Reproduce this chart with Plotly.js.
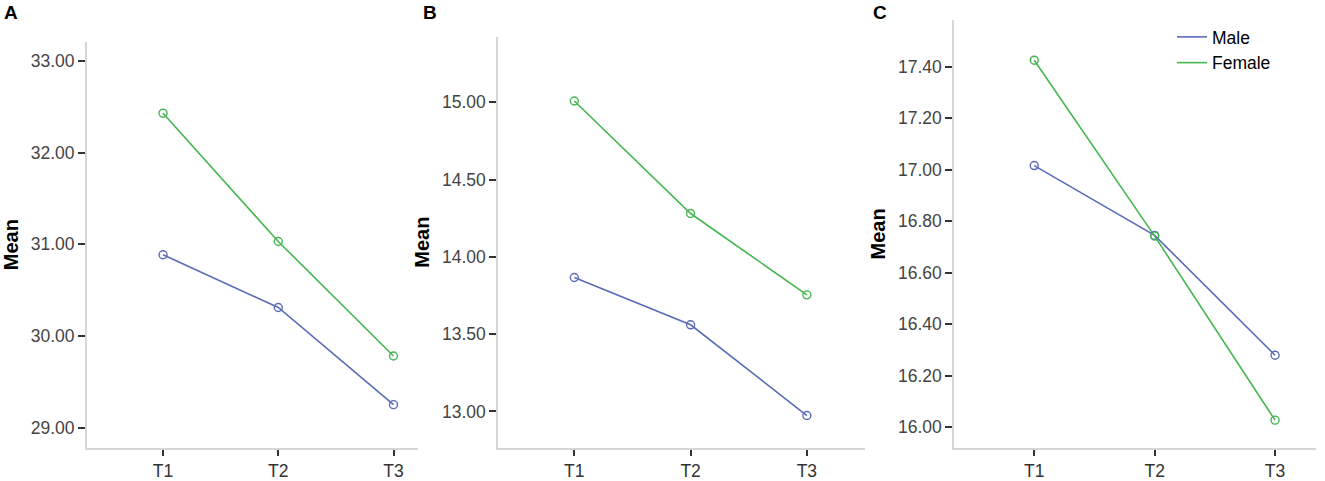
<!DOCTYPE html>
<html>
<head>
<meta charset="utf-8">
<script src="https://cdn.plot.ly/plotly-3.0.1.min.js"></script>
<style>html,body{margin:0;padding:0;background:#fff;}#chart{width:1325px;height:481px;}</style>
</head>
<body>
<div id="chart"></div>
<script>
const categories = ['T1', 'T2', 'T3'];
const maleA = [30.885, 30.31, 29.25];
const femaleA = [32.43, 31.03, 29.78];
const maleB = [13.866, 13.56, 12.973];
const femaleB = [15.008, 14.28, 13.754];
const maleC = [17.016, 16.745, 16.28];
const femaleC = [17.425, 16.742, 16.028];
const tickA = [29, 30, 31, 32, 33];
const tickB = [13, 13.5, 14, 14.5, 15];
const tickC = [16, 16.2, 16.4, 16.6, 16.8, 17, 17.2, 17.4];

const maleColor = '#5b6bb8';
const femaleColor = '#45b650';
const W = 1325, H = 481;
const FONT = 'Liberation Sans, Arial, sans-serif';

function lineTr(x, y, name, color, xa, ya, show) {
  return {
    x: x, y: y, name: name, type: 'scatter', mode: 'lines',
    xaxis: xa, yaxis: ya, showlegend: show,
    line: {color: color, width: 1.6}, hoverinfo: 'skip'
  };
}
function markTr(x, y, name, color, xa, ya) {
  return {
    x: x, y: y, name: name, type: 'scatter', mode: 'markers',
    xaxis: xa, yaxis: ya, showlegend: false,
    marker: {symbol: 'circle-open', size: 8, color: color, line: {width: 1.4, color: color}},
    hoverinfo: 'skip'
  };
}

const data = [
  lineTr(categories, maleA, 'Male', maleColor, 'x', 'y', false),
  lineTr(categories, femaleA, 'Female', femaleColor, 'x', 'y', false),
  markTr(categories, maleA, 'Male', maleColor, 'x', 'y'),
  markTr(categories, femaleA, 'Female', femaleColor, 'x', 'y'),
  lineTr(categories, maleB, 'Male', maleColor, 'x2', 'y2', false),
  lineTr(categories, femaleB, 'Female', femaleColor, 'x2', 'y2', false),
  markTr(categories, maleB, 'Male', maleColor, 'x2', 'y2'),
  markTr(categories, femaleB, 'Female', femaleColor, 'x2', 'y2'),
  lineTr(categories, maleC, 'Male', maleColor, 'x3', 'y3', true),
  lineTr(categories, femaleC, 'Female', femaleColor, 'x3', 'y3', true),
  markTr(categories, maleC, 'Male', maleColor, 'x3', 'y3'),
  markTr(categories, femaleC, 'Female', femaleColor, 'x3', 'y3')
];

function px(a) { return a / W; }
function py(b) { return (H - b) / H; }

function xaxis(d0, d1, r, anchor) {
  return {
    domain: [px(d0), px(d1)], anchor: anchor, type: 'category',
    range: r, showgrid: false, zeroline: false,
    showline: true, linecolor: '#d6d6d6', linewidth: 2,
    ticks: 'outside', ticklen: 6, tickwidth: 2, tickcolor: '#333',
    tickfont: {family: FONT, size: 17.5, color: '#333'},
    fixedrange: true
  };
}
function yaxis(top, r, tv, anchor) {
  return {
    domain: [py(447.7), py(top)], anchor: anchor,
    range: r, showgrid: false, zeroline: false,
    showline: true, linecolor: '#d6d6d6', linewidth: 2,
    ticks: 'outside', ticklen: 7, tickwidth: 2, tickcolor: '#333',
    tickvals: tv, ticktext: tv.map(v => v.toFixed(2)),
    tickfont: {family: FONT, size: 17.5, color: '#444'},
    title: {text: '<b>Mean</b>', font: {family: FONT, size: 20, color: '#000'}, standoff: 7},
    fixedrange: true
  };
}

const layout = {
  width: W, height: H,
  margin: {l: 0, r: 0, t: 0, b: 0},
  paper_bgcolor: '#fff', plot_bgcolor: '#fff',
  xaxis: xaxis(87, 417.7, [-0.66, 2.21], 'y'),
  yaxis: yaxis(41.7, [28.78, 33.21], tickA, 'x'),
  xaxis2: xaxis(498.3, 865, [-0.654, 2.5], 'y2'),
  yaxis2: yaxis(36.7, [12.765, 15.424], tickB, 'x2'),
  xaxis3: xaxis(954.3, 1316, [-0.664, 2.34], 'y3'),
  yaxis3: yaxis(20, [15.921, 17.581], tickC, 'x3'),
  showlegend: true,
  legend: {
    x: px(1172), y: py(19), xanchor: 'left', yanchor: 'top',
    bgcolor: 'rgba(0,0,0,0)', tracegroupgap: 0,
    font: {family: FONT, size: 17.5, color: '#000'}
  },
  annotations: [
    {text: '<b>A</b>', x: px(11), y: py(13), xanchor: 'center', yanchor: 'middle', xref: 'paper', yref: 'paper', showarrow: false, font: {family: FONT, size: 19, color: '#000'}},
    {text: '<b>B</b>', x: px(430), y: py(13), xanchor: 'center', yanchor: 'middle', xref: 'paper', yref: 'paper', showarrow: false, font: {family: FONT, size: 19, color: '#000'}},
    {text: '<b>C</b>', x: px(880), y: py(13), xanchor: 'center', yanchor: 'middle', xref: 'paper', yref: 'paper', showarrow: false, font: {family: FONT, size: 19, color: '#000'}}
  ]
};

Plotly.newPlot('chart', data, layout, {staticPlot: true, displayModeBar: false});
</script>
</body>
</html>
